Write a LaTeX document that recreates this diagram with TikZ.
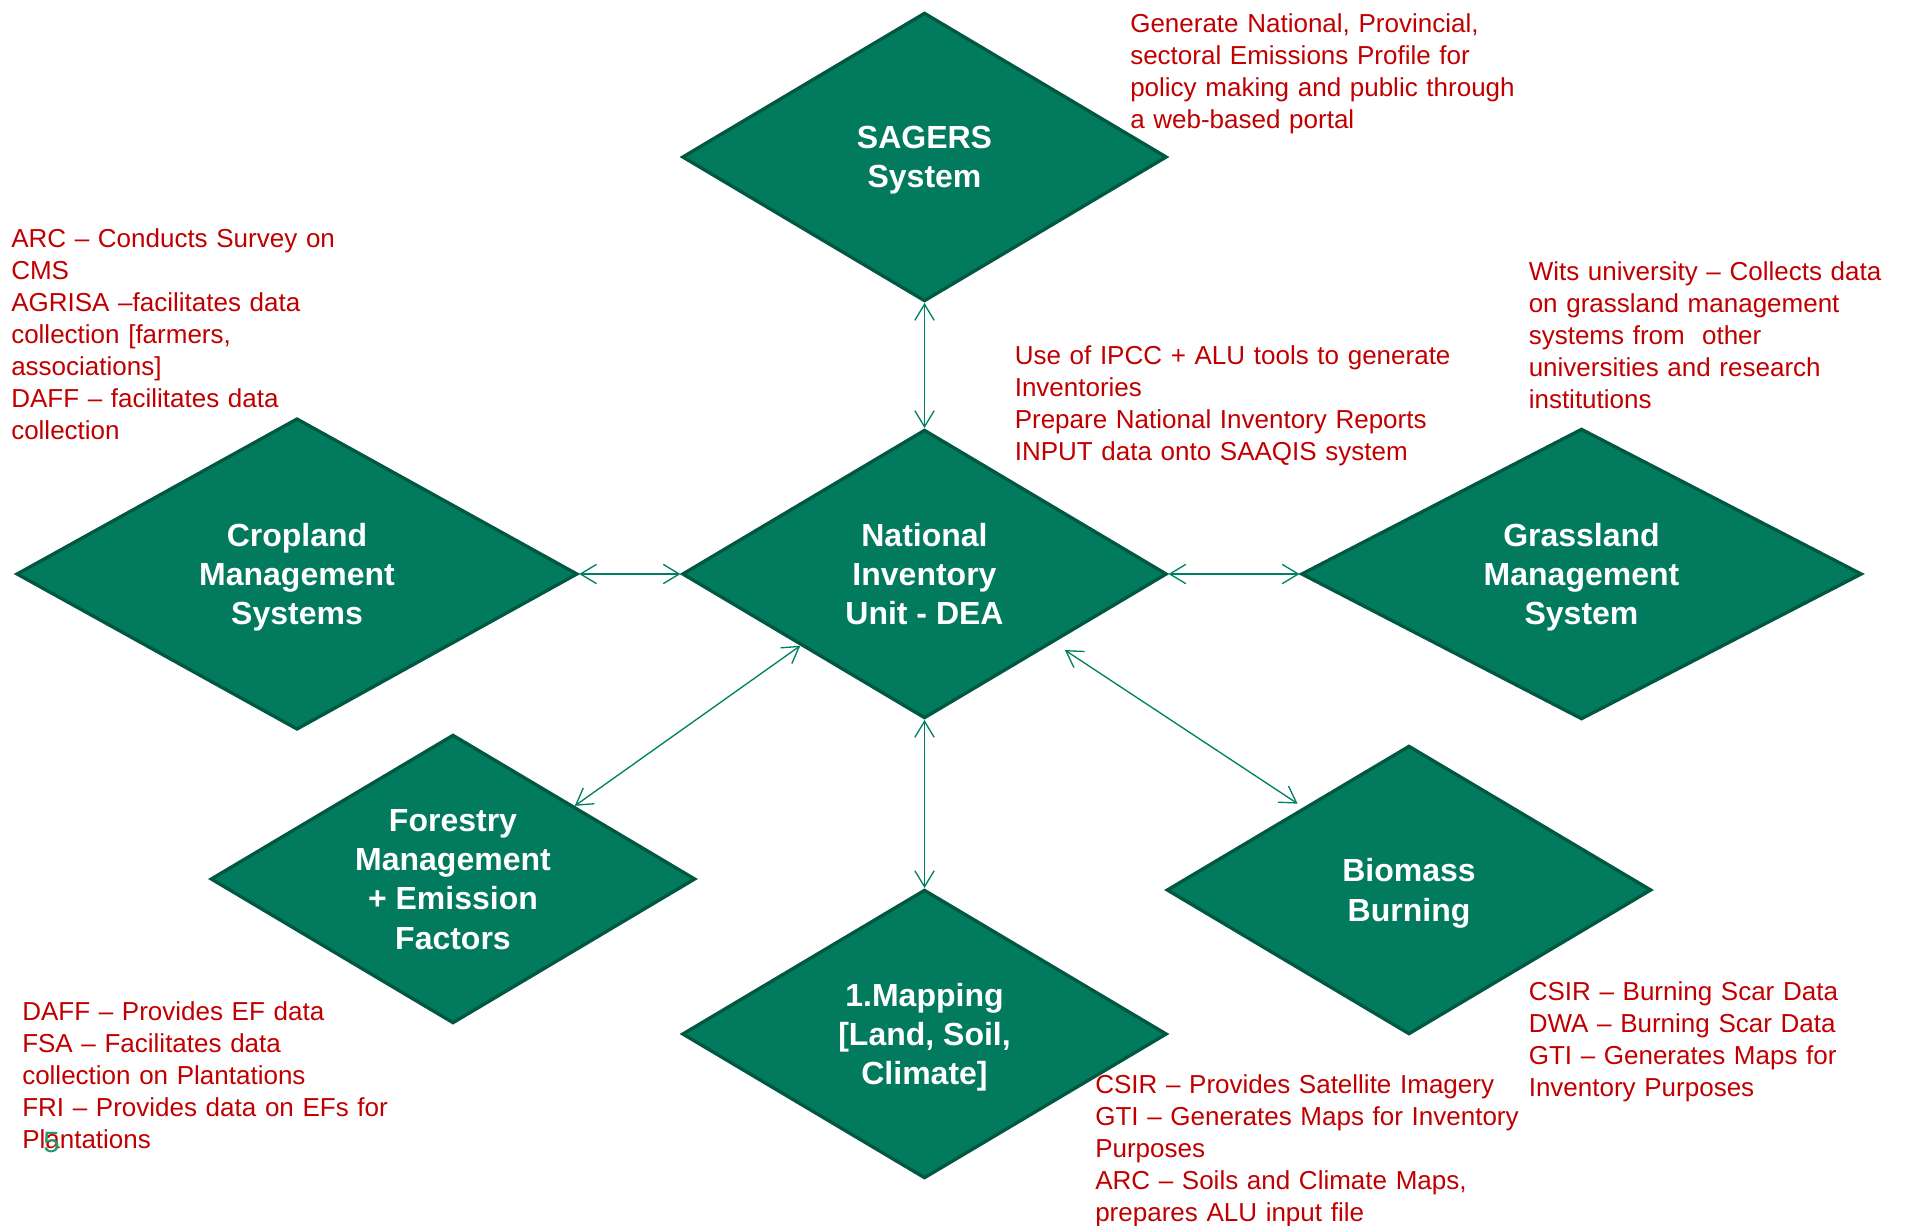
\documentclass[tikz,border=0pt]{standalone}
\usepackage{fontspec}
\setmainfont{Liberation Sans}
\usepackage{xcolor}
\usepackage{tikz}
\usetikzlibrary{shapes.geometric, arrows.meta, positioning}
\definecolor{unitfill}{RGB}{2,122,94}
\definecolor{unitline}{RGB}{0,88,66}
\definecolor{notered}{RGB}{192,0,0}
\definecolor{linkgreen}{RGB}{0,128,96}
\definecolor{slidegreen}{RGB}{40,150,110}
\tikzset{
  unit/.style={diamond, draw=unitline, fill=unitfill, line width=2.5pt, aspect=1.7, inner sep=0pt, minimum width=363.5pt, minimum height=216.5pt, align=center, text=white, text depth=0pt, font=\bfseries\fontsize{24}{29.5}\selectfont},
  note/.style={anchor=base west, text width=400pt, align=left, inner sep=0pt, text=notered, font=\fontsize{19.5}{24}\selectfont},
  link/.style={{Straight Barb[length=12pt,width=14.5pt]}-{Straight Barb[length=12pt,width=14.5pt]}, draw=linkgreen, line width=1pt},
}

\begin{document}
\begin{tikzpicture}[x=0.75pt, y=-0.75pt]
    \useasboundingbox (0,0) rectangle (1905,1225);
    % diamonds
    \node[unit] (sagers) at (924.5,157) {SAGERS\\System};
    \node[unit] (niu) at (924.5,574) {National\\Inventory\\Unit - DEA};
    \node[unit, minimum width=420.8pt, minimum height=233.5pt] (crop) at (297,574) {Cropland\\Management\\Systems};
    \node[unit, minimum width=420.5pt, minimum height=218pt] (grass) at (1581.5,574) {Grassland\\Management\\System};
    \node[unit] (forest) at (453,879) {Forestry\\Management\\+ Emission\\Factors};
    \node[unit] (mapping) at (924.5,1034) {1.Mapping\\{[Land, Soil,}\\Climate]};
    \node[unit] (biomass) at (1409,890) {Biomass\\Burning};
    % notes
    \node[note] (sagersnote) at (1130,32.5) {Generate National, Provincial,\\sectoral Emissions Profile for\\policy making and public through\\a web-based portal};
    \node[note] (cropnote) at (11,247) {ARC – Conducts Survey on\\CMS\\AGRISA –facilitates data\\collection [farmers,\\associations]\\DAFF – facilitates data\\collection};
    \node[note] (grassnote) at (1528.5,280.5) {Wits university – Collects data\\on grassland management\\systems from \ other\\universities and research\\institutions};
    \node[note] (niunote) at (1014.5,364.5) {Use of IPCC + ALU tools to generate\\Inventories\\Prepare National Inventory Reports\\INPUT data onto SAAQIS system};
    \node[note] (forestnote) at (22,1020.5) {DAFF – Provides EF data\\FSA – Facilitates data\\collection on Plantations\\FRI – Provides data on EFs for\\Plantations};
    \node[note] (mappingnote) at (1095,1093.5) {CSIR – Provides Satellite Imagery\\GTI – Generates Maps for Inventory\\Purposes\\ARC – Soils and Climate Maps,\\prepares ALU input file};
    \node[note] (biomassnote) at (1528.5,1000.5) {CSIR – Burning Scar Data\\DWA – Burning Scar Data\\GTI – Generates Maps for\\Inventory Purposes};
    \node[anchor=base west, inner sep=0pt, text=slidegreen, font=\fontsize{22}{26}\selectfont] (slideno) at (43,1152) {5};
    % links
    \draw[link] (sagers) -- (niu);
    \draw[link] (crop) -- (niu);
    \draw[link] (niu) -- (grass);
    \draw[link] (niu) -- (mapping);
    \draw[link] (forest.31) -- (niu.210);
    \draw[link, shorten <=10pt, shorten >=5pt] (niu.-28) -- (biomass.142);
\end{tikzpicture}
\end{document}
